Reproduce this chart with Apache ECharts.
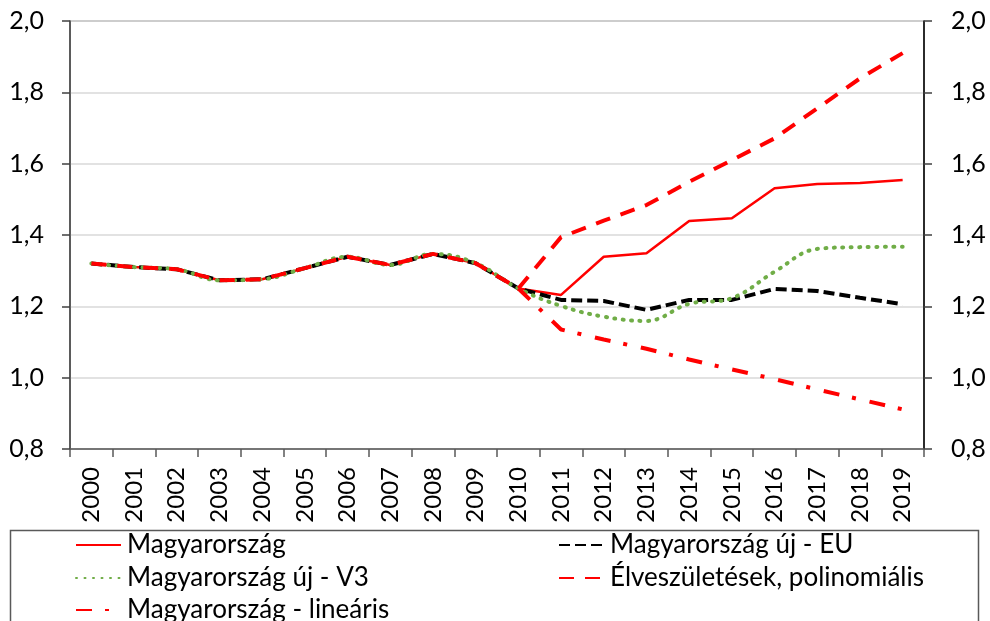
<!DOCTYPE html>
<html>
<head>
<meta charset="utf-8">
<script src="https://cdn.jsdelivr.net/npm/echarts@6/dist/echarts.min.js"></script>
<style>
  html, body { margin: 0; padding: 0; background: #fff; }
  #chart { width: 990px; height: 621px; }
</style>
</head>
<body>
<div id="chart"></div>
<script>
// évek
const years = ['2000', '2001', '2002', '2003', '2004', '2005', '2006', '2007', '2008', '2009',
  '2010', '2011', '2012', '2013', '2014', '2015', '2016', '2017', '2018', '2019'];

// 2000-2010 közös múltbeli adatok, utána előrejelzések
const magyar = [1.32, 1.31, 1.304, 1.273, 1.276, 1.307, 1.339, 1.316, 1.347, 1.321,
  1.25, 1.232, 1.339, 1.349, 1.439, 1.447, 1.531, 1.543, 1.546, 1.554];
const ujEU = [1.32, 1.31, 1.304, 1.273, 1.276, 1.307, 1.339, 1.316, 1.347, 1.321,
  1.25, 1.218, 1.215, 1.19, 1.218, 1.218, 1.249, 1.243, 1.224, 1.206];
const ujV3 = [1.32, 1.31, 1.304, 1.273, 1.276, 1.307, 1.339, 1.316, 1.347, 1.321,
  1.25, 1.201, 1.171, 1.159, 1.207, 1.223, 1.297, 1.361, 1.366, 1.367];
const polinom = [1.32, 1.31, 1.304, 1.273, 1.276, 1.307, 1.339, 1.316, 1.347, 1.321,
  1.25, 1.394, 1.44, 1.484, 1.549, 1.61, 1.671, 1.755, 1.839, 1.91];
const linearis = [null, null, null, null, null, null, null, null, null, null,
  1.25, 1.135, 1.107, 1.081, 1.051, 1.023, 0.996, 0.967, 0.939, 0.911];

const yTicks = { min: 0.8, max: 2.0, interval: 0.2 };

const font = 'Lato, Liberation Sans, sans-serif';
const fmt = v => v.toFixed(1).replace('.', ',');

// egy jelmagyarázat elem = egy legend blokk (két oszlop, három sor)
const legendItem = (name, left, top) => ({
  data: [name],
  orient: 'horizontal', left: left, top: top, padding: 0,
  itemWidth: 45, itemHeight: 14,
  itemStyle: { opacity: 0, borderWidth: 0 },
  textStyle: { fontSize: 26, color: '#000', fontFamily: font, padding: [0, 0, 0, 1] }
});

const chart = echarts.init(document.getElementById('chart'));

const option = {
  animation: false,
  textStyle: { fontFamily: font },
  grid: {
    left: 70, right: 66, top: 21, bottom: 172,
    show: true, borderColor: '#595959', borderWidth: 1
  },
  xAxis: {
    type: 'category',
    data: years,
    boundaryGap: true,
    axisLine: { lineStyle: { color: '#595959', width: 1.5 } },
    axisTick: { show: true, length: 8, lineStyle: { color: '#595959', width: 1.5 } },
    axisLabel: { rotate: 90, margin: 18, fontSize: 24, color: '#000', fontFamily: font, interval: 0 }
  },
  yAxis: [
    {
      type: 'value', position: 'left',
      min: yTicks.min, max: yTicks.max, interval: yTicks.interval,
      axisLine: { show: true, lineStyle: { color: '#404040', width: 1.5 } },
      axisTick: { show: true, length: 8, lineStyle: { color: '#404040', width: 1.5 } },
      axisLabel: { formatter: fmt, fontSize: 25, color: '#000', margin: 26, fontFamily: font },
      splitLine: { lineStyle: { color: '#d9d9d9', width: 1.5 } }
    },
    {
      type: 'value', position: 'right',
      min: yTicks.min, max: yTicks.max, interval: yTicks.interval,
      axisLine: { show: true, lineStyle: { color: '#000', width: 1.5 } },
      axisTick: { show: true, length: 8, lineStyle: { color: '#404040', width: 1.5 } },
      axisLabel: { formatter: fmt, fontSize: 25, color: '#000', margin: 27, fontFamily: font },
      splitLine: { show: false }
    }
  ],
  legend: [
    legendItem('Magyarország', 75, 532),
    legendItem('Magyarország új - V3', 75, 565),
    legendItem('Magyarország - lineáris', 75, 597),
    legendItem('Magyarország új - EU', 558, 532),
    legendItem('Élveszületések, polinomiális', 558, 565)
  ],
  graphic: [
    {
      type: 'rect',
      shape: { x: 10.5, y: 530.5, width: 968, height: 140 },
      style: { fill: 'none', stroke: '#595959', lineWidth: 1.5 },
      silent: true
    }
  ],
  series: [
    {
      name: 'Magyarország', type: 'line', data: magyar,
      symbol: 'none',
      lineStyle: { color: '#ff0000', width: 2.5 },
      itemStyle: { color: '#ff0000' }
    },
    {
      name: 'Magyarország új - EU', type: 'line', data: ujEU,
      symbol: 'none',
      lineStyle: { color: '#000', width: 4, type: [11, 5] },
      itemStyle: { color: '#000' }
    },
    {
      name: 'Magyarország új - V3', type: 'line', data: ujV3,
      symbol: 'none', smooth: 0.4,
      lineStyle: { color: '#70ad47', width: 4, type: [1, 7.5], cap: 'round' },
      itemStyle: { color: '#70ad47' }
    },
    {
      name: 'Élveszületések, polinomiális', type: 'line', data: polinom,
      symbol: 'none',
      lineStyle: { color: '#ff0000', width: 4, type: [15, 11] },
      itemStyle: { color: '#ff0000' }
    },
    {
      name: 'Magyarország - lineáris', type: 'line', data: linearis,
      symbol: 'none',
      lineStyle: { color: '#ff0000', width: 4, type: [16, 13, 4, 14] },
      itemStyle: { color: '#ff0000' }
    }
  ]
};

chart.setOption(option);
</script>
</body>
</html>
